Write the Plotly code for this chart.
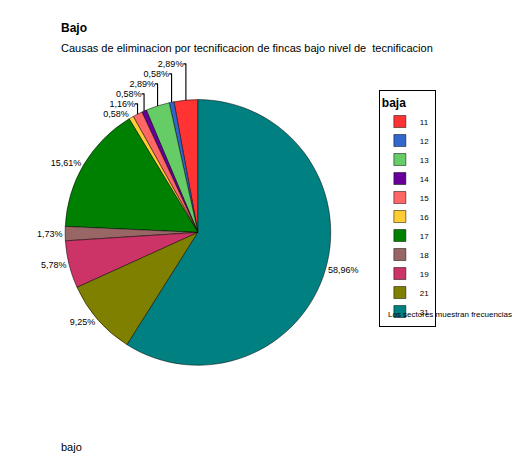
import plotly.graph_objects as go

categories = ["11", "12", "13", "14", "15", "16", "17", "18", "19", "21", "31"]
counts = [5, 1, 5, 1, 2, 1, 27, 3, 10, 16, 102]
pct_labels = ["2,89%", "0,58%", "2,89%", "0,58%", "1,16%", "0,58%",
              "15,61%", "1,73%", "5,78%", "9,25%", "58,96%"]
colors = ["#FF3333", "#3366CC", "#66CC66", "#660099", "#FF6666", "#FFCC33",
          "#008000", "#996666", "#CC3366", "#808000", "#008080"]

fig = go.Figure(go.Pie(
    labels=categories, values=counts, customdata=pct_labels,
    texttemplate="%{customdata}", textposition="outside",
    textfont=dict(size=9, color="black"),
    marker=dict(colors=colors, line=dict(color="black", width=0.5)),
    sort=False, direction="counterclockwise", rotation=-10.4,
    domain=dict(x=[0.03, 0.62], y=[0.22, 0.80]),
    hoverinfo="label+value+percent",
))

fig.update_layout(
    width=520, height=458, paper_bgcolor="white", plot_bgcolor="white",
    font=dict(family="Liberation Sans, Arial", size=11, color="black"),
    margin=dict(l=0, r=0, t=0, b=0),
    legend=dict(x=0.695, y=0.82, xanchor="left", yanchor="top",
                bordercolor="black", borderwidth=1, font=dict(size=8),
                title=dict(text="<b>baja</b>", font=dict(size=12)),
                itemwidth=30, tracegroupgap=0),
    annotations=[
        dict(text="<b>Bajo</b>", x=0.04, y=0.975, xref="paper", yref="paper",
             xanchor="left", yanchor="top", showarrow=False, font=dict(size=12)),
        dict(text="Causas de eliminacion por tecnificacion de fincas bajo nivel de  tecnificacion",
             x=0.04, y=0.93, xref="paper", yref="paper", xanchor="left",
             yanchor="top", showarrow=False, font=dict(size=11)),
        dict(text="Los sectores muestran frecuencias", x=0.71, y=0.33,
             xref="paper", yref="paper", xanchor="left", yanchor="middle",
             showarrow=False, font=dict(size=8)),
        dict(text="bajo", x=0.04, y=0.025, xref="paper", yref="paper",
             xanchor="left", yanchor="bottom", showarrow=False, font=dict(size=11)),
    ],
)

fig.write_html("out.html")
